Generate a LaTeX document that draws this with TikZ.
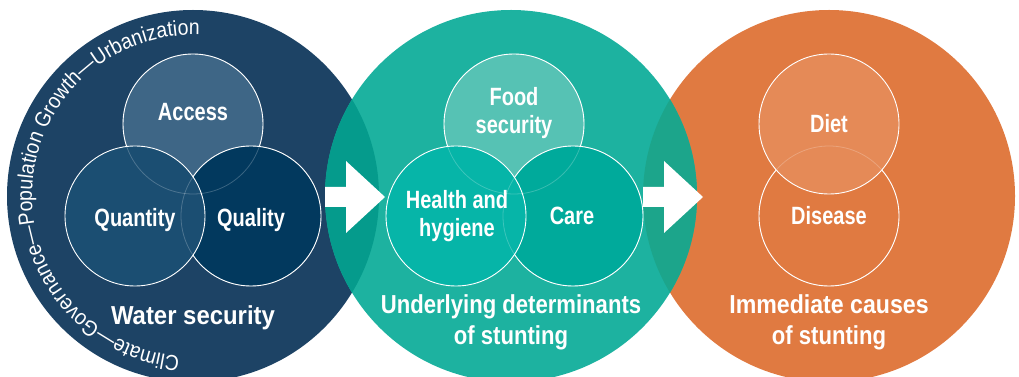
\documentclass[tikz,border=0pt]{standalone}
\usepackage{fontspec}
\setmainfont{Liberation Sans}
\newfontfamily\lblfont[FakeStretch=0.8]{Liberation Sans}
\newfontfamily\capfont[FakeStretch=0.85]{Liberation Sans}
\newfontfamily\capwidefont[FakeStretch=0.92]{Liberation Sans}
\newfontfamily\capmidfont[FakeStretch=0.89]{Liberation Sans}
\newfontfamily\curvefont[FakeStretch=0.9]{Liberation Sans}
\usetikzlibrary{decorations.text}
\definecolor{bigblue}{HTML}{1D4365}
\definecolor{access}{HTML}{3E6686}
\definecolor{quantity}{HTML}{1B4E72}
\definecolor{quality}{HTML}{02395E}
\definecolor{bigteal}{HTML}{1DB2A0}
\definecolor{food}{HTML}{56C2B4}
\definecolor{health}{HTML}{06B5A8}
\definecolor{care}{HTML}{00AA9B}
\definecolor{bigorange}{HTML}{E07A41}
\definecolor{diet}{HTML}{E58A57}
\definecolor{lensbt}{HTML}{059B8C}
\definecolor{lensto}{HTML}{1CA58B}
\tikzset{
  bigcirc/.style={circle, minimum size=372pt, inner sep=0pt},
  venn/.style={circle, minimum size=140pt, inner sep=0pt, draw=white, line width=0.9pt},
  faint/.style={draw=white, draw opacity=0.22, line width=0.8pt},
  lbl/.style={text=white, font=\lblfont\bfseries\fontsize{25}{30}\selectfont, anchor=base, inner sep=0pt},
  captiontext/.style={text=white, font=\capfont\bfseries\fontsize{26}{31}\selectfont, anchor=base, inner sep=0pt},
  arrowshape/.style={fill=white}
}
\begin{document}
\begin{tikzpicture}[x=1pt,y=1pt]
\useasboundingbox (0,0) rectangle (1019,377);
\begin{scope}
\clip (0,0) rectangle (1019,377);
% big circles
\node[bigcirc, fill=bigblue] (water) at (193,181) {};
\node[bigcirc, fill=bigorange] (immediate) at (829,181) {};
\node[bigcirc, fill=bigteal] (underlying) at (511,181) {};
% lenses
\begin{scope}
  \clip (193,181) circle (186);
  \fill[lensbt] (511,181) circle (186);
\end{scope}
\begin{scope}
  \clip (829,181) circle (186);
  \fill[lensto] (511,181) circle (186);
\end{scope}
\end{scope}
% water security venn
\node[venn, fill=access] (caccess) at (193,253) {};
\node[venn, fill=quality] (cquality) at (251,161) {};
\node[venn, fill=quantity] (cquantity) at (135,161) {};
\draw[faint] (193,253) circle (70);
\draw[faint] (251,161) circle (70);
% underlying venn
\node[venn, fill=food] (cfood) at (514,253) {};
\node[venn, fill=care] (ccare) at (573,161) {};
\node[venn, fill=health] (chealth) at (456,161) {};
\draw[faint] (514,253) circle (70);
\draw[faint] (573,161) circle (70);
% immediate venn
\node[venn, fill=bigorange] (cdisease) at (829,161) {};
\node[venn, fill=diet] (cdiet) at (829,253) {};
\draw[faint] (829,161) circle (70);
% arrows
\fill[arrowshape] (325,170) -- (346,170) -- (346,144) -- (385,180) -- (346,216) -- (346,190) -- (325,190) -- cycle;
\fill[arrowshape] (643,170) -- (664,170) -- (664,144) -- (703,180) -- (664,216) -- (664,190) -- (643,190) -- cycle;
% labels
\node[lbl] (taccess) at (193,256) {Access};
\node[lbl] (tquantity) at (135,150) {Quantity};
\node[lbl] (tquality) at (251,150) {Quality};
\node[captiontext, font=\capwidefont\bfseries\fontsize{26}{31}\selectfont] (twater) at (193,52) {Water security};
\node[lbl] (tfood1) at (514,271) {Food};
\node[lbl] (tfood2) at (514,243) {security};
\node[lbl] (thealth1) at (457,168) {Health and};
\node[lbl] (thealth2) at (457,140) {hygiene};
\node[lbl] (tcare) at (572,152) {Care};
\node[captiontext] (tund1) at (511,63) {Underlying determinants};
\node[captiontext] (tund2) at (511,32) {of stunting};
\node[lbl] (tdiet) at (829,244) {Diet};
\node[lbl] (tdisease) at (829,152) {Disease};
\node[captiontext, font=\capmidfont\bfseries\fontsize{26}{31}\selectfont] (timm1) at (829,63) {Immediate causes};
\node[captiontext] (timm2) at (829,32) {of stunting};
% curved text
\path[decorate, decoration={text along path, text align=center,
  text={|\curvefont\fontsize{21.6}{25}\selectfont\color{white}|Climate—Governance—Population Growth—Urbanization}}]
  (193,181) ++(266.5:161) arc[start angle=266.5, end angle=86.5, radius=161];
\end{tikzpicture}
\end{document}
